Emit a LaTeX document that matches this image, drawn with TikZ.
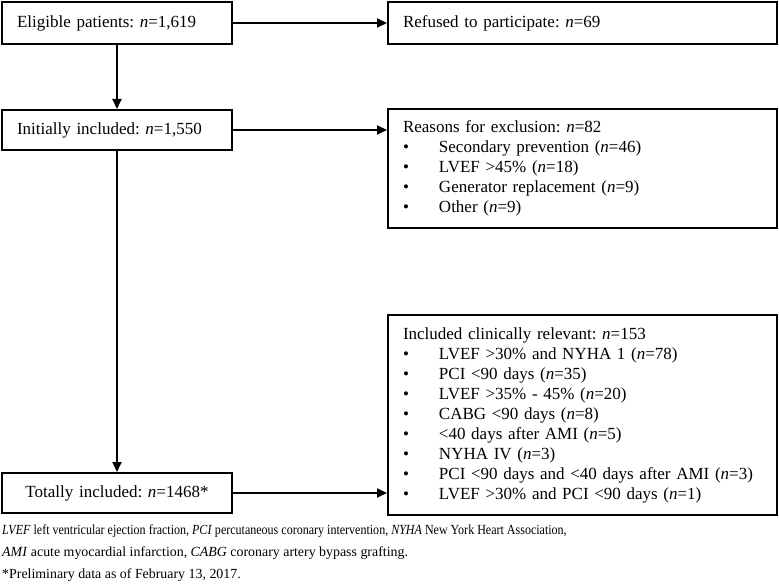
\documentclass[tikz,border=0pt]{standalone}
\usepackage{fontspec}
\setmainfont{Liberation Serif}
\newfontfamily\condfont[FakeStretch=0.865]{Liberation Serif}
\usetikzlibrary{arrows.meta}

\newcommand{\bul}{\makebox[36pt][l]{\textbullet}}

\begin{document}
\frenchspacing
\begin{tikzpicture}[x=1pt, y=-1pt,
  box/.style={draw, line width=2pt, minimum height=42pt, inner sep=0pt,
    font=\fontsize{17}{20}\selectfont},
  lbox/.style={box, minimum width=230pt, text width=200pt, align=left},
  rbox/.style={box, minimum width=389pt, text width=359pt, align=left},
  arr/.style={-{Triangle[length=10pt,width=9pt]}, line width=2pt},
  note/.style={anchor=base west, inner sep=0pt, font=\fontsize{13.9}{15}\selectfont}]
\useasboundingbox (0,0) rectangle (779,588);

\node [lbox] (elig) at (117,23) {Eligible patients: \textit{n}=1,619};
\node [rbox] (refu) at (582.5,23) {Refused to participate: \textit{n}=69};
\node [lbox, minimum height=40pt] (init) at (117,130) {Initially included: \textit{n}=1,550};
\node [rbox, minimum height=119pt] (excl) at (582.5,168.5) {Reasons for exclusion: \textit{n}=82\\
  \bul Secondary prevention (\textit{n}=46)\\
  \bul LVEF >45\% (\textit{n}=18)\\
  \bul Generator replacement (\textit{n}=9)\\
  \bul Other (\textit{n}=9)};
\node [rbox, minimum height=200pt] (rele) at (582.5,415) {Included clinically relevant: \textit{n}=153\\
  \bul LVEF >30\% and NYHA 1 (\textit{n}=78)\\
  \bul PCI <90 days (\textit{n}=35)\\
  \bul LVEF >35\% - 45\% (\textit{n}=20)\\
  \bul CABG <90 days (\textit{n}=8)\\
  \bul <40 days after AMI (\textit{n}=5)\\
  \bul NYHA IV (\textit{n}=3)\\
  \bul PCI <90 days and <40 days after AMI (\textit{n}=3)\\
  \bul LVEF >30\% and PCI <90 days (\textit{n}=1)};
\node [lbox, align=center, minimum height=40pt] (total) at (117,493) {Totally included: \textit{n}=1468*};

\draw [arr] (elig) -- (refu);
\draw [arr] (elig) -- (init);
\draw [arr] (init.east) -- (init.east -| excl.west);
\draw [arr] (init) -- (total);
\draw [arr] (total.east) -- (total.east -| rele.west);

\node [note, font=\fontsize{13.9}{15}\condfont] (abbr1) at (2,534) {\textit{LVEF} left ventricular ejection fraction, \textit{PCI} percutaneous coronary intervention, \textit{NYHA} New York Heart Association,};
\node [note] (abbr2) at (2,556) {\textit{AMI} acute myocardial infarction, \textit{CABG} coronary artery bypass grafting.};
\node [note] (prelim) at (2,578) {*Preliminary data as of February 13, 2017.};

\end{tikzpicture}
\end{document}
